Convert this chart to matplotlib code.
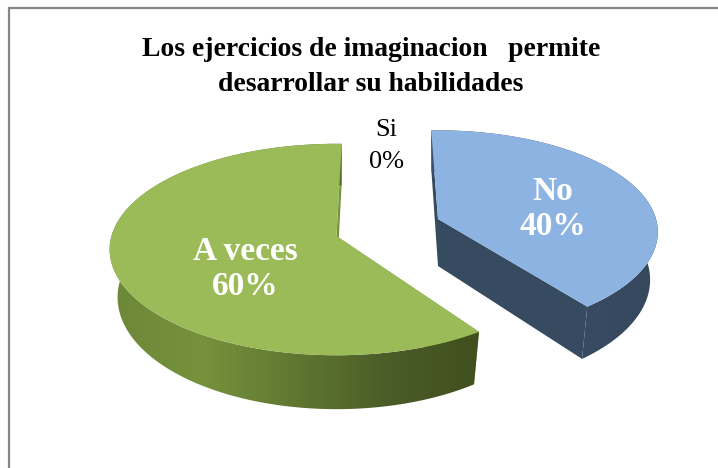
import numpy as np
import matplotlib
matplotlib.use("Agg")
import matplotlib.pyplot as plt
from matplotlib.colors import LinearSegmentedColormap
from matplotlib.patches import Polygon, Rectangle

title = "Los ejercicios de imaginacion   permite\ndesarrollar su habilidades"
categories = ["Si", "No", "A veces"]
values = [0, 40, 60]

plt.rcParams["font.family"] = ["Liberation Serif", "DejaVu Serif"]

TILT = 0.128
DEPTH = 47

# look of each visible slice: centre, radii, small rotation, top colour, side ramp
slices = {
    "No": dict(cx=438, cy=219, rx=218, ry=100, rot=-2, top="#8db3e2",
               ramp=["#3f5269", "#3a4c63", "#36485e"], wall="#364a60"),
    "A veces": dict(cx=336.5, cy=236, rx=225, ry=104, rot=1.5, top="#9bbb59",
                    ramp=["#6c8738", "#76923c", "#5f7731", "#4a5c27", "#3f4f1e"],
                    wall="#76923c"),
}


def project(s, theta, r=1.0, floor=False):
    """Tilted disc: theta in degrees clockwise from 12 o'clock, far side shrinks."""
    a = np.radians(np.asarray(theta, dtype=float) + s["rot"])
    u, v = r * np.sin(a), r * np.cos(a)
    w = 1 / (1 + TILT * v)
    shrink = 0.965 if floor else 1.0
    x = s["cx"] + s["rx"] * shrink * u * w
    y = s["cy"] - s["ry"] * v * w + (DEPTH * w if floor else 0)
    return np.column_stack([x, y])


def draw_slice(ax, s, start, end):
    arc = np.linspace(start, end, 200)
    top_rim = project(s, arc)
    floor_rim = project(s, arc, floor=True)
    apex = project(s, [0], r=0)
    apex_floor = project(s, [0], r=0, floor=True)

    # cut walls
    for i in (0, -1):
        wall = np.vstack([top_rim[i], apex, apex_floor, floor_rim[i]])
        ax.add_patch(Polygon(wall, closed=True, fc=s["wall"], ec="none", zorder=2))

    # outer side with a left to right ramp
    side = Polygon(np.vstack([top_rim, floor_rim[::-1]]), closed=True,
                   fc="none", ec="none", zorder=3)
    ax.add_patch(side)
    cmap = LinearSegmentedColormap.from_list("side", s["ramp"])
    x0, x1 = floor_rim[:, 0].min() - 10, top_rim[:, 0].max() + 5
    im = ax.imshow(np.linspace(0, 1, 256)[None, :], cmap=cmap, aspect="auto",
                   extent=[x0, x1, 420, 120], zorder=3, interpolation="bilinear")
    im.set_clip_path(side)

    # top face
    ax.add_patch(Polygon(np.vstack([apex, top_rim]), closed=True,
                         fc=s["top"], ec="none", zorder=4))


def main():
    fig = plt.figure(figsize=(7.18, 4.68), dpi=100)
    ax = fig.add_axes([0, 0, 1, 1])

    ax.add_patch(Rectangle((8.5, 7.5), 800, 600, fc="white", ec="#868686", lw=1.6, zorder=1))

    total = sum(values)
    edges = np.cumsum([0] + values) / total * 360
    for i, cat in enumerate(categories):
        if cat in slices:
            draw_slice(ax, slices[cat], edges[i], edges[i + 1])

    ax.set_xlim(0, 718)
    ax.set_ylim(468, 0)
    ax.axis("off")

    ax.text(371, 67, title, ha="center", va="center", fontsize=19.9,
            fontweight="bold", color="black", linespacing=1.48, zorder=6)

    # data labels
    label_pos = {"Si": (386, 146), "No": (553, 209), "A veces": (245, 269)}
    for cat, val in zip(categories, values):
        x, y = label_pos[cat]
        dark = val == 0
        ax.text(x, y, f"{cat}\n{val}%", ha="center", va="center",
                fontsize=19 if dark else 24,
                fontweight="normal" if dark else "bold",
                color="black" if dark else "white",
                linespacing=1.55 if dark else 1.17, zorder=6)

    fig.savefig("out.png", dpi=100)


if __name__ == "__main__":
    main()
